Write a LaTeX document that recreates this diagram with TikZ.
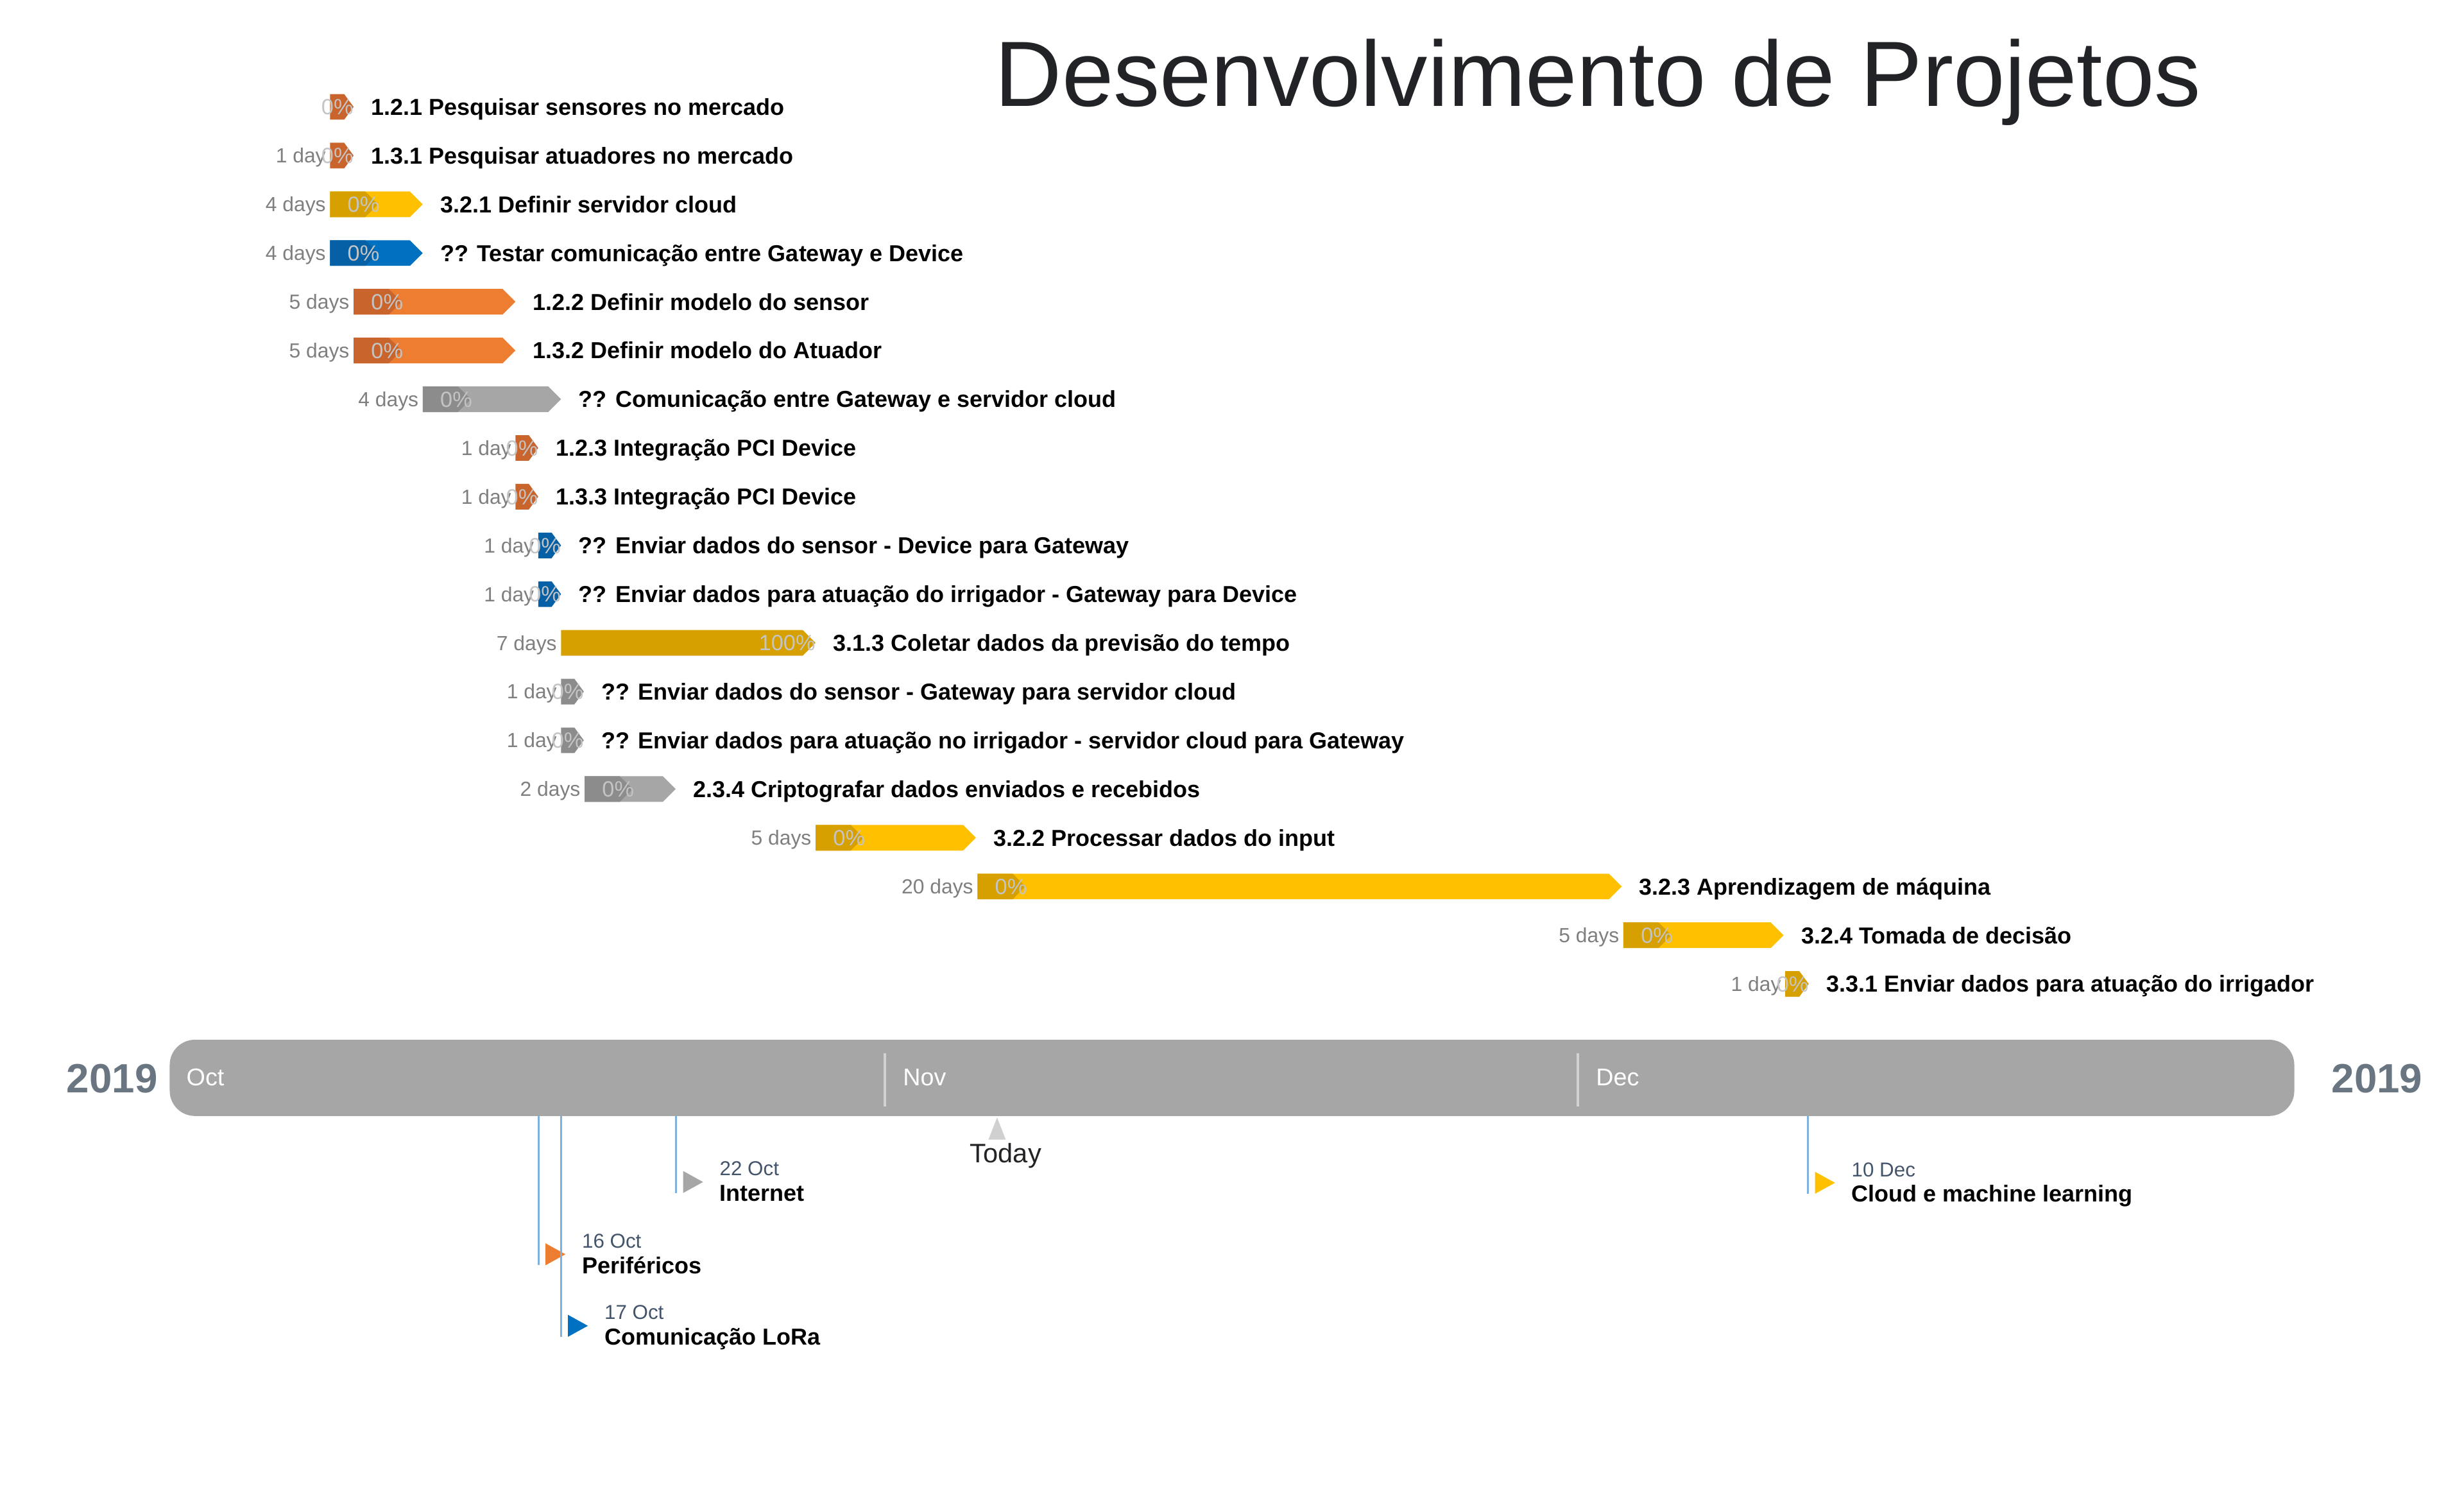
\documentclass[tikz,border=0pt]{standalone}
\usepackage{fontspec}
\setmainfont{Liberation Sans}
\usepackage{xcolor}
\usepackage{tikz}
\usetikzlibrary{positioning}
\definecolor{orgL}{HTML}{ED7D31}
\definecolor{orgD}{HTML}{C8642C}
\definecolor{gldL}{HTML}{FFC000}
\definecolor{gldD}{HTML}{D6A000}
\definecolor{bluL}{HTML}{0070C0}
\definecolor{bluD}{HTML}{0560A6}
\definecolor{gryL}{HTML}{A6A6A6}
\definecolor{gryD}{HTML}{8C8C8C}
\definecolor{pctC}{HTML}{C4C4C4}
\definecolor{durC}{HTML}{7F7F7F}
\definecolor{yrC}{HTML}{697580}
\definecolor{dateC}{HTML}{44546A}
\definecolor{msC}{HTML}{7EB1DE}
\definecolor{ttlC}{HTML}{222326}
\definecolor{sepC}{HTML}{D2D2D2}
\definecolor{todayC}{HTML}{D0D0D0}
\tikzset{
  txt/.style={inner sep=0pt,text depth=0pt},
  tlbl/.style={txt,anchor=west,font=\fontsize{14.7}{17}\selectfont\bfseries,text height=10.5pt},
  dlbl/.style={txt,anchor=east,text=durC,font=\fontsize{13}{15}\selectfont,text height=9.3pt},
  plbl/.style={txt,text=pctC,font=\fontsize{14}{16}\selectfont,text height=10pt},
  mlbl/.style={txt,anchor=west,text=white,font=\fontsize{15.4}{18}\selectfont,text height=11pt},
  ylbl/.style={txt,text=yrC,font=\fontsize{26}{30}\selectfont\bfseries,text height=18.6pt},
  sdate/.style={txt,anchor=west,text=dateC,font=\fontsize{12.8}{15}\selectfont,text height=9.2pt},
  sname/.style={txt,anchor=west,font=\fontsize{14.7}{17}\selectfont\bfseries,text height=10.5pt},
  axisbar/.style={fill=gryL,inner sep=0pt,minimum width=1352pt,minimum height=48.5pt,rounded corners=16pt},
  msline/.style={msC,line width=1.1pt},
  monthsep/.style={sepC,line width=1.4pt}
}
\newcommand{\bh}{8.15}
\newcommand{\gtask}[8]{%
  \node[dlbl] (#1d) at (#3-2.5,#2) {#7};
  \fill[#5] (#3,#2-\bh) -- (#4-\bh,#2-\bh) -- (#4,#2) -- (#4-\bh,#2+\bh) -- (#3,#2+\bh) -- cycle;
  \fill[#6] (#3,#2-\bh) -- (#3+22.4,#2-\bh) -- (#3+30.6,#2) -- (#3+22.4,#2+\bh) -- (#3,#2+\bh) -- cycle;
  \node[plbl,anchor=west] (#1p) at (#3+11,#2) {0\%};
  \node[tlbl] (#1t) at (#4+11,#2) {#8};}
\newcommand{\gday}[7]{%
  \node[dlbl] (#1d) at (#3-2.5,#2) {#6};
  \fill[#5] (#3,#2-\bh) -- (#4-6,#2-\bh) -- (#4,#2) -- (#4-6,#2+\bh) -- (#3,#2+\bh) -- cycle;
  \node[plbl,anchor=east] (#1p) at (#4,#2) {0\%};
  \node[tlbl] (#1t) at (#4+11,#2) {#7};}
\newcommand{\gdone}[7]{%
  \node[dlbl] (#1d) at (#3-2.5,#2) {#6};
  \fill[#5] (#3,#2-\bh) -- (#4-\bh,#2-\bh) -- (#4,#2) -- (#4-\bh,#2+\bh) -- (#3,#2+\bh) -- cycle;
  \node[plbl,anchor=east] (#1p) at (#4,#2) {100\%};
  \node[tlbl] (#1t) at (#4+11,#2) {#7};}
\newcommand{\mstone}[6]{%
  \coordinate (#1) at (#2,#3);
  \draw[msline] (axis.south -| #1) -- (#1);
  \fill[#4] (#2+4.4,#3-14) -- (#2+4.4,#3) -- (#2+17.1,#3-7) -- cycle;
  \node[sdate] (#1d) at (#2+27.5,#3-15.6) {#5};
  \node[sname] (#1n) at (#2+27.5,#3) {#6};}

\begin{document}
\begin{tikzpicture}[x=1pt,y=-1pt]
\useasboundingbox (0,0) rectangle (1568,947.33);
\node[txt,anchor=base west,text=ttlC,font=\fontsize{59}{66}\selectfont] (title) at (633,67.4) {Desenvolvimento de Projetos};

\gday{r1}{68}{210}{225}{orgD}{}{1.2.1 Pesquisar sensores no mercado}
\gday{r2}{99}{210}{225}{orgD}{1 day}{1.3.1 Pesquisar atuadores no mercado}
\gtask{r3}{130}{210}{269}{gldL}{gldD}{4 days}{3.2.1 Definir servidor cloud}
\gtask{r4}{161}{210}{269}{bluL}{bluD}{4 days}{?? Testar comunicação entre Gateway e Device}
\gtask{r5}{192}{225}{328}{orgL}{orgD}{5 days}{1.2.2 Definir modelo do sensor}
\gtask{r6}{223}{225}{328}{orgL}{orgD}{5 days}{1.3.2 Definir modelo do Atuador}
\gtask{r7}{254}{269}{357}{gryL}{gryD}{4 days}{?? Comunicação entre Gateway e servidor cloud}
\gday{r8}{285}{328}{342.5}{orgD}{1 day}{1.2.3 Integração PCI Device}
\gday{r9}{316}{328}{342.5}{orgD}{1 day}{1.3.3 Integração PCI Device}
\gday{r10}{347}{342.5}{357}{bluD}{1 day}{?? Enviar dados do sensor - Device para Gateway}
\gday{r11}{378}{342.5}{357}{bluD}{1 day}{?? Enviar dados para atuação do irrigador - Gateway para Device}
\gdone{r12}{409}{357}{519}{gldD}{7 days}{3.1.3 Coletar dados da previsão do tempo}
\gday{r13}{440}{357}{371.5}{gryD}{1 day}{?? Enviar dados do sensor - Gateway para servidor cloud}
\gday{r14}{471}{357}{371.5}{gryD}{1 day}{?? Enviar dados para atuação no irrigador - servidor cloud para Gateway}
\gtask{r15}{502}{372}{430}{gryL}{gryD}{2 days}{2.3.4 Criptografar dados enviados e recebidos}
\gtask{r16}{533}{519}{621}{gldL}{gldD}{5 days}{3.2.2 Processar dados do input}
\gtask{r17}{564}{622}{1032}{gldL}{gldD}{20 days}{3.2.3 Aprendizagem de máquina}
\gtask{r18}{595}{1033}{1135}{gldL}{gldD}{5 days}{3.2.4 Tomada de decisão}
\gday{r19}{626}{1136}{1151}{gldD}{1 day}{3.3.1 Enviar dados para atuação do irrigador}

\node[axisbar] (axis) at (784,685.75) {};
\draw[monthsep] (563,670) -- (563,704);
\draw[monthsep] (1004,670) -- (1004,704);
\node[mlbl] (oct) at (118.5,685) {Oct};
\node[mlbl] (nov) at (574.5,685) {Nov};
\node[mlbl] (dec) at (1015.5,685) {Dec};
\node[ylbl,anchor=east] (yrL) at (100.5,686) {2019};
\node[ylbl,anchor=west] (yrR) at (1483.5,686) {2019};

\fill[todayC] (629,725) -- (640,725) -- (634.5,711) -- cycle;
\node[txt,text=ttlC,font=\fontsize{17}{20}\selectfont,text height=12.2pt] (today) at (640,733.5) {Today};

\mstone{m1}{430.3}{759}{gryL}{22 Oct}{Internet}
\mstone{m2}{342.7}{805}{orgL}{16 Oct}{Periféricos}
\mstone{m3}{357}{850.5}{bluL}{17 Oct}{Comunicação LoRa}
\mstone{m4}{1150.6}{759.5}{gldL}{10 Dec}{Cloud e machine learning}
\end{tikzpicture}
\end{document}
